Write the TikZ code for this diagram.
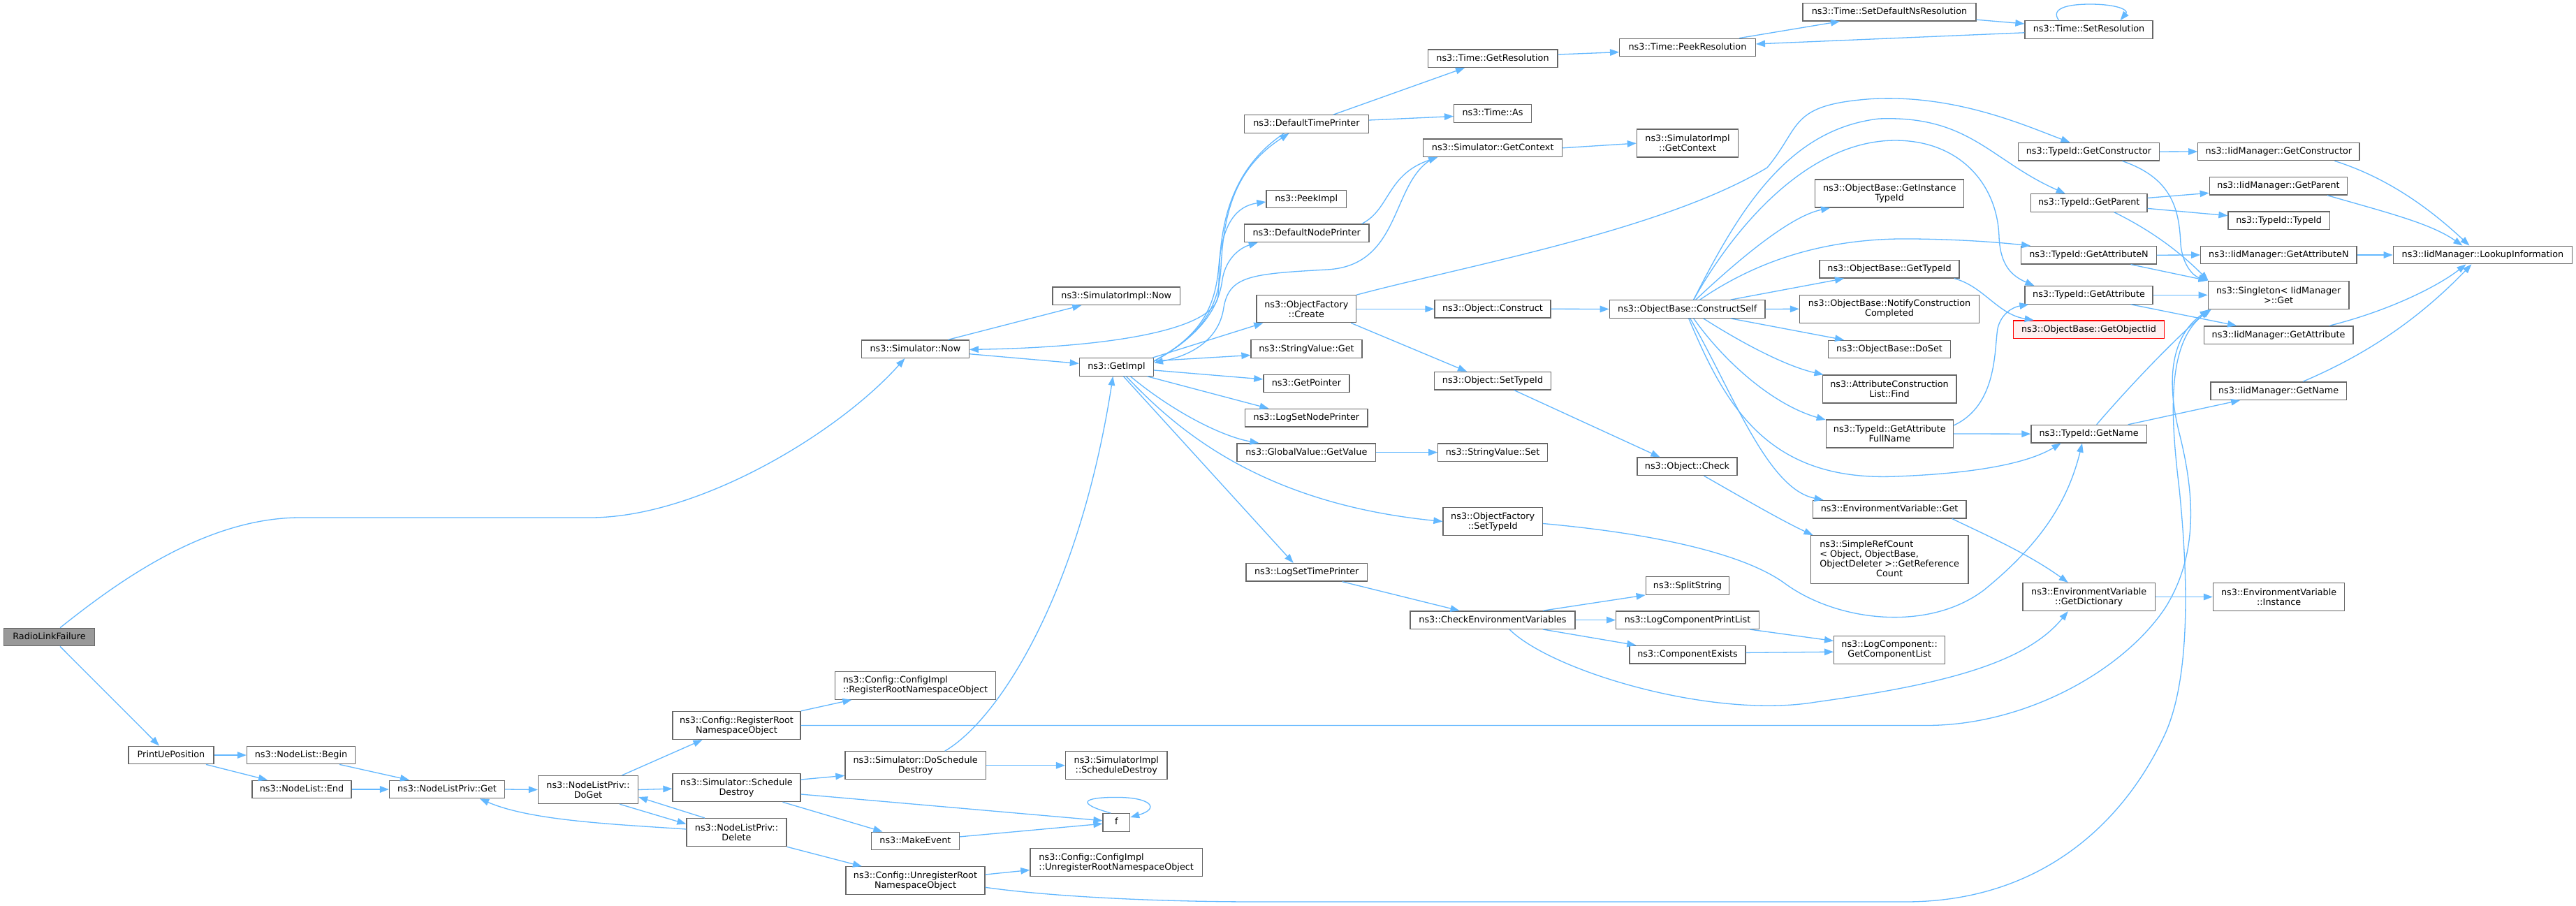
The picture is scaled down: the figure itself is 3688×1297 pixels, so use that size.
\documentclass[tikz,border=0pt]{standalone}
\usepackage{fontspec}
\setmainfont{DejaVu Sans}
\usetikzlibrary{arrows.meta,calc}
\definecolor{edgeblue}{HTML}{63B8FF}
\definecolor{nodegray}{HTML}{666666}
\definecolor{rlfgray}{HTML}{999999}
\definecolor{redfill}{HTML}{FFF0F0}
\newcommand\dfont{\fontsize{12.8}{14}\selectfont}
\tikzset{
  nd/.style={draw=nodegray, fill=white, line width=1.3pt, inner sep=0pt, font=\dfont,
    minimum height=25.5, text height=9.7pt, text depth=2.7pt},
  ndd/.style={draw=nodegray, fill=white, line width=1.3pt, inner sep=0pt, font=\dfont,
    minimum height=40, align=center},
  ed/.style={draw=edgeblue, line width=1.3pt, -{Triangle[length=13pt,width=9.5pt]}},
}
\begin{document}
\begin{tikzpicture}[x=1pt,y=-1pt]
\fill[white] (0,0) rectangle (3688,1297);
\useasboundingbox (0,0) rectangle (3688,1297);
% ---------------- nodes
\node[nd, fill=rlfgray, minimum width=130] (rlf) at (70.5,912) {RadioLinkFailure};
\node[nd, minimum width=122] (pup) at (245,1081) {PrintUePosition};
\node[nd, minimum width=155] (nlb) at (431,1081) {ns3::NodeList::Begin};
\node[nd, minimum width=142] (nle) at (432,1130) {ns3::NodeList::End};
\node[nd, minimum width=165] (nlpget) at (640,1130) {ns3::NodeListPriv::Get};
\node[ndd, minimum width=143] (doget) at (842,1130.5) {ns3::NodeListPriv::\\DoGet};
\node[ndd, minimum width=183] (regroot) at (1054.5,1038.5) {ns3::Config::RegisterRoot\\NamespaceObject};
\node[ndd, minimum width=183] (schdes) at (1054.5,1127.6) {ns3::Simulator::Schedule\\Destroy};
\node[ndd, minimum width=143] (delete) at (1054.5,1191.6) {ns3::NodeListPriv::\\Delete};
\node[ndd, align=left, minimum width=230] (cireg) at (1310.4,981.2) {ns3::Config::ConfigImpl\\::RegisterRootNamespaceObject};
\node[ndd, minimum width=201.5] (doschdes) at (1310.7,1095.8) {ns3::Simulator::DoSchedule\\Destroy};
\node[ndd, minimum width=145.4] (simschdes) at (1598.3,1095.8) {ns3::SimulatorImpl\\::ScheduleDestroy};
\node[nd, minimum width=38.5] (fn) at (1598.3,1177.4) {f};
\node[nd, minimum width=125.6] (makeevent) at (1310.4,1203.9) {ns3::MakeEvent};
\node[ndd, align=left, minimum width=246.4] (ciunreg) at (1598.2,1234.5) {ns3::Config::ConfigImpl\\::UnregisterRootNamespaceObject};
\node[ndd, minimum width=199] (unreg) at (1310.5,1260.8) {ns3::Config::UnregisterRoot\\NamespaceObject};
\node[nd, minimum width=153.7] (simnow) at (1310.4,499.7) {ns3::Simulator::Now};
\node[nd, minimum width=182.5] (simimplnow) at (1598.3,423.7) {ns3::SimulatorImpl::Now};
\node[nd, minimum width=106] (getimpl) at (1598.4,525.4) {ns3::GetImpl};
\node[nd, minimum width=178] (dtp) at (1870.4,177.5) {ns3::DefaultTimePrinter};
\node[nd, minimum width=114.4] (peekimpl) at (1870.2,285) {ns3::PeekImpl};
\node[nd, minimum width=178.6] (dnp) at (1870.7,333.7) {ns3::DefaultNodePrinter};
\node[ndd, minimum width=142.5, minimum height=39] (ofcreate) at (1870.3,442.3) {ns3::ObjectFactory\\::Create};
\node[nd, minimum width=159] (svget) at (1870.5,499.5) {ns3::StringValue::Get};
\node[nd, minimum width=123] (getpointer) at (1870.4,549) {ns3::GetPointer};
\node[nd, minimum width=175.4] (lsnp) at (1870.4,598.2) {ns3::LogSetNodePrinter};
\node[nd, minimum width=198.5] (gvgetvalue) at (1870.3,647.6) {ns3::GlobalValue::GetValue};
\node[nd, minimum width=173.5] (lstp) at (1870.7,819.3) {ns3::LogSetTimePrinter};
\node[nd, minimum width=185.7] (timegetres) at (2137,83.7) {ns3::Time::GetResolution};
\node[nd, minimum width=110.7] (timeas) at (2137,162.5) {ns3::Time::As};
\node[nd, minimum width=198.8] (simgetctx) at (2137.2,211.8) {ns3::Simulator::GetContext};
\node[nd, minimum width=166] (objconstruct) at (2137,442.3) {ns3::Object::Construct};
\node[nd, minimum width=166.8] (objsettypeid) at (2137,545.2) {ns3::Object::SetTypeId};
\node[nd, minimum width=156.7] (svset) at (2137,647.6) {ns3::StringValue::Set};
\node[ndd, minimum width=142.4] (ofsettypeid) at (2137.2,746.5) {ns3::ObjectFactory\\::SetTypeId};
\node[nd, minimum width=236] (cev) at (2137,887.6) {ns3::CheckEnvironmentVariables};
\node[nd, minimum width=194.6] (peekres) at (2416,68) {ns3::Time::PeekResolution};
\node[ndd, minimum width=145.2] (simimplctx) at (2416,205.1) {ns3::SimulatorImpl\\::GetContext};
\node[nd, minimum width=222.7] (constructself) at (2415.7,442.5) {ns3::ObjectBase::ConstructSelf};
\node[nd, minimum width=143] (objcheck) at (2415.5,667.8) {ns3::Object::Check};
\node[nd, minimum width=119.5] (splitstring) at (2416,838.5) {ns3::SplitString};
\node[nd, minimum width=204.6] (lcpl) at (2416,887.6) {ns3::LogComponentPrintList};
\node[nd, minimum width=166.1] (compexists) at (2416,937.1) {ns3::ComponentExists};
\node[nd, minimum width=248] (setdefns) at (2705,17.2) {ns3::Time::SetDefaultNsResolution};
\node[ndd, minimum width=213] (gitid) at (2705.2,277) {ns3::ObjectBase::GetInstance\\TypeId};
\node[nd, minimum width=200] (obgettypeid) at (2705,385.3) {ns3::ObjectBase::GetTypeId};
\node[ndd, minimum width=257] (notify) at (2705,442.3) {ns3::ObjectBase::NotifyConstruction\\Completed};
\node[nd, minimum width=174.5] (doset) at (2705,500) {ns3::ObjectBase::DoSet};
\node[ndd, minimum width=191.7] (aclfind) at (2705,557) {ns3::AttributeConstruction\\List::Find};
\node[ndd, minimum width=182] (fullname) at (2705.3,621) {ns3::TypeId::GetAttribute\\FullName};
\node[nd, minimum width=219.8] (envget) at (2705.1,729.1) {ns3::EnvironmentVariable::Get};
\node[ndd, minimum width=225.8, minimum height=69] (simpleref) at (2705.1,801.2)
  {\begin{tabular}{@{}l@{}}ns3::SimpleRefCount\\< Object, ObjectBase,\\ ObjectDeleter >::GetReference\\\multicolumn{1}{@{}c@{}}{Count}\end{tabular}};
\node[ndd, minimum width=159] (getcomplist) at (2705.1,930.5) {ns3::LogComponent::\\GetComponentList};
\node[nd, minimum width=183] (setres) at (2990.5,42.5) {ns3::Time::SetResolution};
\node[nd, minimum width=201.6] (tgetctor) at (2990.5,217.2) {ns3::TypeId::GetConstructor};
\node[nd, minimum width=166.7] (tgetparent) at (2990.7,290.4) {ns3::TypeId::GetParent};
\node[nd, minimum width=193.6] (tgetattrn) at (2990.5,365.2) {ns3::TypeId::GetAttributeN};
\node[nd, minimum width=183] (tgetattr) at (2990.5,422.4) {ns3::TypeId::GetAttribute};
\node[nd, draw=red, fill=redfill, minimum width=216.4] (getobjiid) at (2990.5,471.7) {ns3::ObjectBase::GetObjectIid};
\node[nd, minimum width=165.3] (tgetname) at (2990.6,621.2) {ns3::TypeId::GetName};
\node[ndd, minimum width=189.4] (getdict) at (2990.7,854.5) {ns3::EnvironmentVariable\\::GetDictionary};
\node[nd, minimum width=231.2] (iidgetctor) at (3262.4,217) {ns3::IidManager::GetConstructor};
\node[nd, minimum width=197.5] (iidgetparent) at (3262,266.3) {ns3::IidManager::GetParent};
\node[nd, minimum width=145.2] (typeidtypeid) at (3262.6,315.7) {ns3::TypeId::TypeId};
\node[nd, minimum width=223.2] (iidgetattrn) at (3262.4,365) {ns3::IidManager::GetAttributeN};
\node[ndd, minimum width=201.6] (singleton) at (3262.1,422.4) {ns3::Singleton< IidManager\\>::Get};
\node[nd, minimum width=213.6] (iidgetattr) at (3262.1,479.6) {ns3::IidManager::GetAttribute};
\node[nd, minimum width=194.4] (iidgetname) at (3262.1,559.6) {ns3::IidManager::GetName};
\node[ndd, minimum width=188.4] (envinst) at (3262.6,854.5) {ns3::EnvironmentVariable\\::Instance};
\node[nd, minimum width=256.3] (lookup) at (3554.4,365) {ns3::IidManager::LookupInformation};
% ---------------- edges
\draw[ed] ($(rlf.north)+(15.6,0)$) .. controls (160,840) and (290,741) .. (430,741) -- (845,741) .. controls (1000,741) and (1200,620) .. ($(simnow.south)+(-15,0)$);
\draw[ed] ($(rlf.south)+(15.5,0)$) -- ($(pup.north)+(-17,0)$);
\draw[ed] (pup.east) -- (nlb.west);
\draw[ed] ($(pup.south)+(50,0)$) -- ($(nle.north)+(-49,0)$);
\draw[ed] ($(nlb.south)+(55,0)$) -- ($(nlpget.north)+(-54,0)$);
\draw[ed] (nle.east) -- (nlpget.west);
\draw[ed] (nlpget.east) -- (doget.west);
\draw[ed] ($(doget.north)+(48.5,0)$) -- ($(regroot.south)+(-49,0)$);
\draw[ed] (doget.east) -- ($(schdes.west)+(0,1.5)$);
\draw[ed] ($(doget.south)+(45,0)$) -- ($(delete.west)+(0,-12)$);
\draw[ed] ($(delete.north)+(-45.5,0)$) -- ($(doget.east)+(0,10.5)$);
\draw[ed] ($(delete.west)+(0,-4.6)$) .. controls (880,1180) and (760,1175) .. ($(nlpget.south)+(47,0)$);
\draw[ed] (delete.south east) -- ($(unreg.north)+(-76.5,0)$);
\draw[ed] (regroot.north east) -- ($(cireg.south)+(-91,0)$);
\draw[ed] (regroot.east) -- (2758,1038.5) .. controls (2900,1038.5) and (3040,960) .. (3100,870) .. controls (3150,790) and (3140,700) .. (3120,620) .. controls (3100,540) and (3110,480) .. ($(singleton.south west)+(2,0)$);
\draw[ed] ($(schdes.east)+(0,-11.6)$) -- ($(doschdes.west)+(0,14.5)$);
\draw[ed] ($(schdes.east)+(0,9.4)$) -- ($(fn.west)+(0,-2.6)$);
\draw[ed] ($(schdes.south)+(66,0)$) -- ($(makeevent.north)+(-47,0)$);
\draw[ed] (doschdes.east) -- (simschdes.west);
\draw[ed] ($(doschdes.north)+(42,0)$) .. controls (1430,1030) and (1545,850) .. ($(getimpl.south)+(-5,0)$);
\draw[ed] ($(makeevent.east)+(0,-6)$) -- ($(fn.west)+(0,1.8)$);
\draw[ed] ($(fn.north)+(-8,0)$) .. controls (1540,1150) and (1550,1141.4) .. (1598,1141.4) .. controls (1650,1141.4) and (1660,1158) .. ($(fn.north east)+(0,6)$);
\draw[ed] ($(unreg.east)+(0,-8.8)$) -- ($(ciunreg.west)+(0,11)$);
\draw[ed] ($(unreg.east)+(0,9.5)$) .. controls (1500,1283) and (1650,1291) .. (1800,1291) -- (2728,1291) .. controls (2920,1291) and (3040,1180) .. (3100,1050) .. controls (3140,960) and (3130,800) .. (3120,700) .. controls (3108,600) and (3100,490) .. ($(singleton.south west)+(5,0)$);
\draw[ed] ($(simnow.north)+(47,0)$) -- ($(simimplnow.south)+(-50,0)$);
\draw[ed] ($(simnow.east)+(0,7)$) -- ($(getimpl.west)+(0,-5)$);
\draw[ed] ($(dtp.south)+(-32,0)$) .. controls (1735,260) and (1748,380) .. (1744,423) .. controls (1740,470) and (1600,497) .. ($(simnow.east)+(0,0.7)$);
\draw[ed] ($(getimpl.north east)+(0,5)$) .. controls (1720,480) and (1745,440) .. (1748,383) .. controls (1752,300) and (1770,240) .. ($(dtp.south)+(-25,0)$);
\draw[ed] ($(getimpl.north east)+(0,5)$) .. controls (1720,480) and (1740,440) .. (1745,380) .. controls (1750,320) and (1770,295) .. ($(peekimpl.west)+(0,4)$);
\draw[ed] ($(getimpl.north east)+(0,5)$) .. controls (1720,480) and (1745,440) .. (1750,400) .. controls (1755,370) and (1775,355) .. ($(dnp.south west)+(20,0)$);
\draw[ed] ($(dnp.north)+(79,0)$) .. controls (1990,300) and (1985,250) .. ($(simgetctx.south west)+(21,0)$);
\draw[ed] ($(simgetctx.south west)+(18,0)$) .. controls (1990,255) and (2010,380) .. (1900,386) .. controls (1790,392) and (1760,395) .. (1752,440) .. controls (1745,490) and (1700,510) .. ($(getimpl.east)+(0,-6)$);
\draw[ed] (simgetctx.east) -- (simimplctx.west);
\draw[ed] ($(dtp.north)+(38.6,0)$) -- ($(timegetres.south)+(-40,0)$);
\draw[ed] ($(dtp.east)+(0,-5.5)$) -- ($(timeas.west)+(0,4)$);
\draw[ed] ($(timegetres.east)+(0,-5.7)$) -- ($(peekres.west)+(0,6.6)$);
\draw[ed] ($(peekres.north)+(74,0)$) -- ($(setdefns.south)+(-71,0)$);
\draw[ed] ($(setdefns.east)+(0,11)$) -- ($(setres.west)+(0,-8.5)$);
\draw[ed] ($(setres.west)+(0,4.3)$) -- ($(peekres.east)+(0,-5)$);
\draw[ed] ($(setres.north)+(-43,0)$) .. controls (2935,12) and (2960,6) .. (2992,6) .. controls (3030,6) and (3048,14) .. ($(setres.north)+(45,0)$);
\draw[ed] (ofcreate.east) -- (objconstruct.west);
\draw[ed] ($(ofcreate.south)+(64,0)$) -- ($(objsettypeid.north)+(-37,0)$);
\draw[ed] (ofcreate.north east) .. controls (2100,380) and (2380,330) .. (2530,240) .. controls (2580,180) and (2560,150) .. (2680,141.5) .. controls (2800,135) and (2900,180) .. ($(tgetctor.north)+(-27,0)$);
\draw[ed] (objconstruct.east) -- (constructself.west);
\draw[ed] ($(objsettypeid.south)+(30.7,0)$) -- ($(objcheck.north)+(-39,0)$);
\draw[ed] ($(objcheck.south)+(24,0)$) .. controls (2490,710) and (2550,745) .. ($(simpleref.north west)+(4,0)$);
\draw[ed] ($(constructself.north)+(12,0)$) .. controls (2480,380) and (2560,310) .. ($(gitid.south west)+(22,0)$);
\draw[ed] ($(constructself.north)+(62,0)$) -- ($(obgettypeid.south)+(-65,0)$);
\draw[ed] ($(constructself.north)+(18,0)$) .. controls (2520,370) and (2620,340) .. (2740,342) .. controls (2820,343) and (2870,348) .. ($(tgetattrn.north west)+(14,0)$);
\draw[ed] ($(constructself.north)+(9,0)$) .. controls (2480,330) and (2580,210) .. (2700,201.5) .. controls (2800,195) and (2860,260) .. (2862,340) .. controls (2864,380) and (2880,395) .. ($(tgetattr.north west)+(14,0)$);
\draw[ed] ($(constructself.north)+(9,0)$) .. controls (2490,300) and (2560,185) .. (2690,170) .. controls (2820,165) and (2850,230) .. ($(tgetparent.north)+(-34,0)$);
\draw[ed] (constructself.east) -- (notify.west);
\draw[ed] ($(constructself.south)+(62,0)$) -- ($(doset.north)+(-65,0)$);
\draw[ed] ($(constructself.south)+(23,0)$) .. controls (2500,495) and (2560,525) .. ($(aclfind.north west)+(2,0)$);
\draw[ed] ($(constructself.south)+(9,0)$) .. controls (2470,520) and (2540,580) .. ($(fullname.west)+(0,-20)$);
\draw[ed] ($(constructself.south)+(4,0)$) .. controls (2480,560) and (2530,700) .. ($(envget.north west)+(16,0)$);
\draw[ed] ($(constructself.south)+(2,0)$) .. controls (2470,580) and (2530,690) .. (2715,682) .. controls (2820,678) and (2900,665) .. ($(tgetname.south)+(-40,0)$);
\draw[ed] ($(obgettypeid.south)+(93,0)$) .. controls (2840,410) and (2860,450) .. ($(getobjiid.north west)+(30,0)$);
\draw[ed] ($(fullname.east)+(0,-12)$) .. controls (2860,580) and (2855,500) .. (2860,470) .. controls (2865,450) and (2880,440) .. ($(tgetattr.south west)+(6,0)$);
\draw[ed] (fullname.east) -- (tgetname.west);
\draw[ed] (tgetctor.east) -- (iidgetctor.west);
\draw[ed] ($(tgetctor.south)+(48,0)$) .. controls (3110,255) and (3120,300) .. (3122,350) .. controls (3125,380) and (3140,395) .. (singleton.north west);
\draw[ed] ($(tgetparent.east)+(0,-7)$) -- ($(iidgetparent.west)+(0,10)$);
\draw[ed] ($(tgetparent.east)+(0,8)$) -- ($(typeidtypeid.west)+(0,-7)$);
\draw[ed] ($(tgetparent.south)+(36,0)$) .. controls (3080,330) and (3120,360) .. ($(singleton.north west)+(1,0)$);
\draw[ed] (tgetattrn.east) -- (iidgetattrn.west);
\draw[ed] ($(tgetattrn.south)+(60,0)$) -- (singleton.north west);
\draw[ed] (tgetattr.east) -- (singleton.west);
\draw[ed] ($(tgetattr.south)+(60,0)$) -- ($(iidgetattr.north)+(-60,0)$);
\draw[ed] ($(tgetname.north)+(11,0)$) .. controls (3060,540) and (3120,480) .. ($(singleton.south west)+(2,0)$);
\draw[ed] ($(tgetname.north)+(56,0)$) -- ($(iidgetname.south)+(-55,0)$);
\draw[ed] ($(iidgetctor.south)+(80,0)$) .. controls (3420,255) and (3480,300) .. ($(lookup.north)+(-19,0)$);
\draw[ed] ($(iidgetparent.south)+(70,0)$) .. controls (3420,305) and (3480,320) .. ($(lookup.north)+(-29,0)$);
\draw[ed] (iidgetattrn.east) -- (lookup.west);
\draw[ed] ($(iidgetattr.north)+(73,0)$) .. controls (3420,445) and (3490,410) .. ($(lookup.south)+(-24,0)$);
\draw[ed] ($(iidgetname.north)+(35,0)$) .. controls (3370,515) and (3450,470) .. ($(lookup.south)+(-16,0)$);
\draw[ed] ($(getimpl.north)+(52,0)$) -- ($(ofcreate.south)+(-62,0)$);
\draw[ed] ($(getimpl.east)+(0,-8.7)$) -- ($(svget.west)+(0,9)$);
\draw[ed] ($(getimpl.east)+(0,4.6)$) -- ($(getpointer.west)+(0,-6)$);
\draw[ed] ($(getimpl.south)+(44,0)$) -- ($(lsnp.north)+(-54,0)$);
\draw[ed] ($(getimpl.south)+(20,0)$) .. controls (1680,590) and (1750,625) .. ($(gvgetvalue.north west)+(32,0)$);
\draw[ed] ($(getimpl.south)+(14,0)$) .. controls (1680,610) and (1800,720) .. (ofsettypeid.west);
\draw[ed] ($(getimpl.south)+(10,0)$) -- ($(lstp.north)+(-19,0)$);
\draw[ed] (gvgetvalue.east) -- (svset.west);
\draw[ed] ($(lstp.south)+(51,0)$) -- ($(cev.north)+(-47.5,0)$);
\draw[ed] ($(ofsettypeid.east)+(0,3)$) .. controls (2380,765) and (2500,795) .. (2555,835) .. controls (2630,890) and (2760,905) .. (2840,845) .. controls (2920,780) and (2960,720) .. ($(tgetname.south)+(-9.6,0)$);
\draw[ed] ($(cev.north)+(72,0)$) -- (splitstring.south west);
\draw[ed] (cev.east) -- (lcpl.west);
\draw[ed] ($(cev.south)+(72,0)$) -- ($(compexists.north west)+(10,0)$);
\draw[ed] ($(cev.south)+(24,0)$) .. controls (2220,960) and (2450,1030) .. (2600,1005) .. controls (2780,980) and (2900,950) .. ($(getdict.south)+(-30,0)$);
\draw[ed] ($(lcpl.south)+(89,0)$) -- ($(getcomplist.west)+(0,-13)$);
\draw[ed] ($(compexists.east)+(0,-2.7)$) -- ($(getcomplist.west)+(0,2.7)$);
\draw[ed] ($(envget.south)+(89.6,0)$) .. controls (2830,760) and (2900,790) .. ($(getdict.north)+(-30,0)$);
\draw[ed] (getdict.east) -- (envinst.west);
\end{tikzpicture}
\end{document}
